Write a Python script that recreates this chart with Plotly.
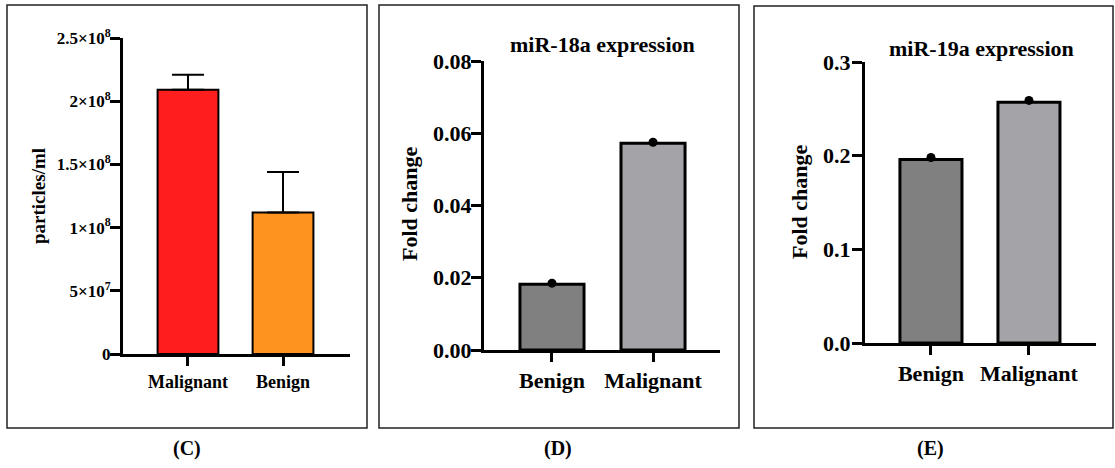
import plotly.graph_objects as go

W, H = 1115, 468

# ---- data ----
c_categories = ["Malignant", "Benign"]
c_values = [2.09e8, 1.12e8]
c_errors = [0.12e8, 0.32e8]
c_colors = ["#FF1E1E", "#FF9320"]
c_tickvals = [0, 5e7, 1e8, 1.5e8, 2e8, 2.5e8]
c_ticktext = ["0", "5×10<sup>7</sup>", "1×10<sup>8</sup>", "1.5×10<sup>8</sup>",
              "2×10<sup>8</sup>", "2.5×10<sup>8</sup>"]

d_categories = ["Benign", "Malignant"]
d_values = [0.0182, 0.0572]
d_points = [0.0185, 0.0575]

e_categories = ["Benign", "Malignant"]
e_values = [0.196, 0.257]
e_points = [0.198, 0.259]

grey_colors = ["#808080", "#A4A3A8"]

FONT = "Liberation Serif"


def px(x):
    return x / W


def py(y):
    return 1 - y / H


fig = go.Figure()

# Panel C
fig.add_trace(go.Bar(
    x=c_categories, y=c_values, width=0.64,
    marker=dict(color=c_colors, line=dict(color="black", width=2)),
    error_y=dict(type="data", symmetric=False, array=c_errors,
                 arrayminus=[0, 0], color="black", thickness=2, width=16),
    xaxis="x", yaxis="y", showlegend=False))

# Panel D
fig.add_trace(go.Bar(
    x=d_categories, y=d_values, width=0.634,
    marker=dict(color=grey_colors, line=dict(color="black", width=3)),
    xaxis="x2", yaxis="y2", showlegend=False))
fig.add_trace(go.Scatter(
    x=d_categories, y=d_points, mode="markers",
    marker=dict(color="black", size=9), cliponaxis=False,
    xaxis="x2", yaxis="y2", showlegend=False))

# Panel E
fig.add_trace(go.Bar(
    x=e_categories, y=e_values, width=0.633,
    marker=dict(color=grey_colors, line=dict(color="black", width=3)),
    xaxis="x3", yaxis="y3", showlegend=False))
fig.add_trace(go.Scatter(
    x=e_categories, y=e_points, mode="markers",
    marker=dict(color="black", size=9), cliponaxis=False,
    xaxis="x3", yaxis="y3", showlegend=False))


def xaxis(dom, rng, size, anchor):
    return dict(domain=[px(dom[0]), px(dom[1])], range=rng, type="category",
                anchor=anchor, showline=True, linewidth=3, linecolor="black",
                ticks="outside", ticklen=9, tickwidth=2.5, tickcolor="black",
                showgrid=False, zeroline=False, automargin=False,
                tickfont=dict(family=FONT, size=size, color="black", weight="bold"))


def yaxis(dom, rng, size, anchor, standoff, **kw):
    d = dict(domain=[py(dom[0]), py(dom[1])], range=rng, anchor=anchor,
             showline=True, linewidth=3, linecolor="black",
             ticks="outside", ticklen=10, tickwidth=2.5, tickcolor="black",
             showgrid=False, zeroline=False, automargin=False,
             ticklabelstandoff=standoff,
             tickfont=dict(family=FONT, size=size, color="black", weight="bold"))
    d.update(kw)
    return d


fig.update_layout(
    width=W, height=H,
    autosize=False,
    margin=dict(l=0, r=0, t=0, b=0, pad=0),
    paper_bgcolor="white", plot_bgcolor="white",
    font=dict(family=FONT, color="black"),
    xaxis=xaxis((123, 350), [-0.684, 1.705], 18, "y"),
    yaxis=yaxis((354, 38), [0, 2.5e8], 17, "x", -4,
                tickmode="array", tickvals=c_tickvals, ticktext=c_ticktext),
    xaxis2=xaxis((484, 720), [-0.673, 1.663], 22, "y2"),
    yaxis2=yaxis((350, 61), [0, 0.08], 22, "x2", -5, dtick=0.02, tickformat=".2f"),
    xaxis3=xaxis((865, 1096), [-0.673, 1.684], 22, "y3"),
    yaxis3=yaxis((343, 62), [0, 0.3], 22, "x3", -3, dtick=0.1, tickformat=".1f"),
)

# Panel borders
for (x0, y0, x1, y1) in [(7, 5, 367, 428), (379, 5, 739, 428), (754, 6, 1113, 428)]:
    fig.add_shape(type="rect", xref="paper", yref="paper",
                  x0=px(x0), x1=px(x1), y0=py(y1), y1=py(y0),
                  line=dict(color="#222222", width=1.5), layer="below")

ann = []
# y-axis titles
for text, x, y, size in [("particles/ml", 38, 196, 19),
                          ("Fold change", 409, 204, 22),
                          ("Fold change", 799, 202, 22)]:
    ann.append(dict(text=text, x=px(x), y=py(y), xref="paper", yref="paper",
                    showarrow=False, textangle=-90, xanchor="center", yanchor="middle",
                    font=dict(family=FONT, size=size, color="black", weight="bold")))
# titles
for text, x, y in [("miR-18a expression", 602, 45), ("miR-19a expression", 981, 49)]:
    ann.append(dict(text=text, x=px(x), y=py(y), xref="paper", yref="paper",
                    showarrow=False, xanchor="center", yanchor="middle",
                    font=dict(family=FONT, size=22, color="black", weight="bold")))
# panel letters
for text, x in [("(C)", 187), ("(D)", 558), ("(E)", 930)]:
    ann.append(dict(text=text, x=px(x), y=py(448), xref="paper", yref="paper",
                    showarrow=False, xanchor="center", yanchor="middle",
                    font=dict(family=FONT, size=20, color="black", weight="bold")))
fig.update_layout(annotations=ann)

fig.write_html(
    "out.html",
    config={"displayModeBar": False},
    post_script="document.body.style.margin='0';document.body.style.padding='0';"
                "document.body.style.overflow='hidden';",
)
